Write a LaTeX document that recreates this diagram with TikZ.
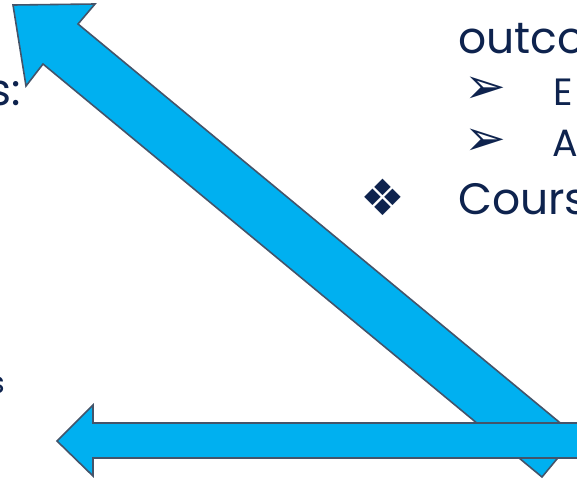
\documentclass[tikz,border=0pt]{standalone}
\usepackage{fontspec}
\setmainfont{Poppins}
\newfontfamily\symfont{DejaVu Sans}
\usetikzlibrary{positioning}
\definecolor{navy}{RGB}{14,35,78}
\definecolor{arrowfill}{RGB}{0,176,240}
\definecolor{arrowline}{RGB}{68,84,106}
\tikzset{
  blockarrow/.style={fill=arrowfill, draw=arrowline, line width=1.6pt, line join=miter},
  lvlone/.style={anchor=base west, inner sep=0pt, text=navy, font=\fontsize{44}{48}\selectfont},
  lvltwo/.style={anchor=base west, inner sep=0pt, text=navy, font=\fontsize{38}{40}\selectfont},
  bulletsym/.style={inner sep=0pt, text=navy, font=\symfont\fontsize{50}{54}\selectfont},
}

\begin{document}
\begin{tikzpicture}[x=1pt, y=-1pt]
\useasboundingbox (0,0) rectangle (577,480);
% slide text, cut by the frame
\node[lvlone] (outco) at (458,53) {outco};
\node[bulletsym] (arrE) at (485,90) {➢};
\node[lvltwo] (txtE) at (553,105) {E};
\node[bulletsym] (arrA) at (485,142) {➢};
\node[lvltwo] (txtA) at (552,156) {A};
\node[bulletsym] (diam) at (383,197) {❖};
\node[lvlone] (cours) at (458,214) {Cours};
\node[lvlone, anchor=base east] (colon) at (21,105) {s:};
\node[lvlone, anchor=base east, font=\fontsize{30}{32}\selectfont] (lasts) at (5.5,393) {s};
% diagonal arrow
\draw[blockarrow] (13,5) -- (95,4) -- (78,24) -- (576,436) -- (542,477)
  -- (43,64) -- (26,86) -- cycle;
% horizontal arrow
\draw[blockarrow] (57,441) -- (93,405) -- (93,423) -- (590,423) -- (590,458)
  -- (93,458) -- (93,476) -- cycle;
\end{tikzpicture}
\end{document}
